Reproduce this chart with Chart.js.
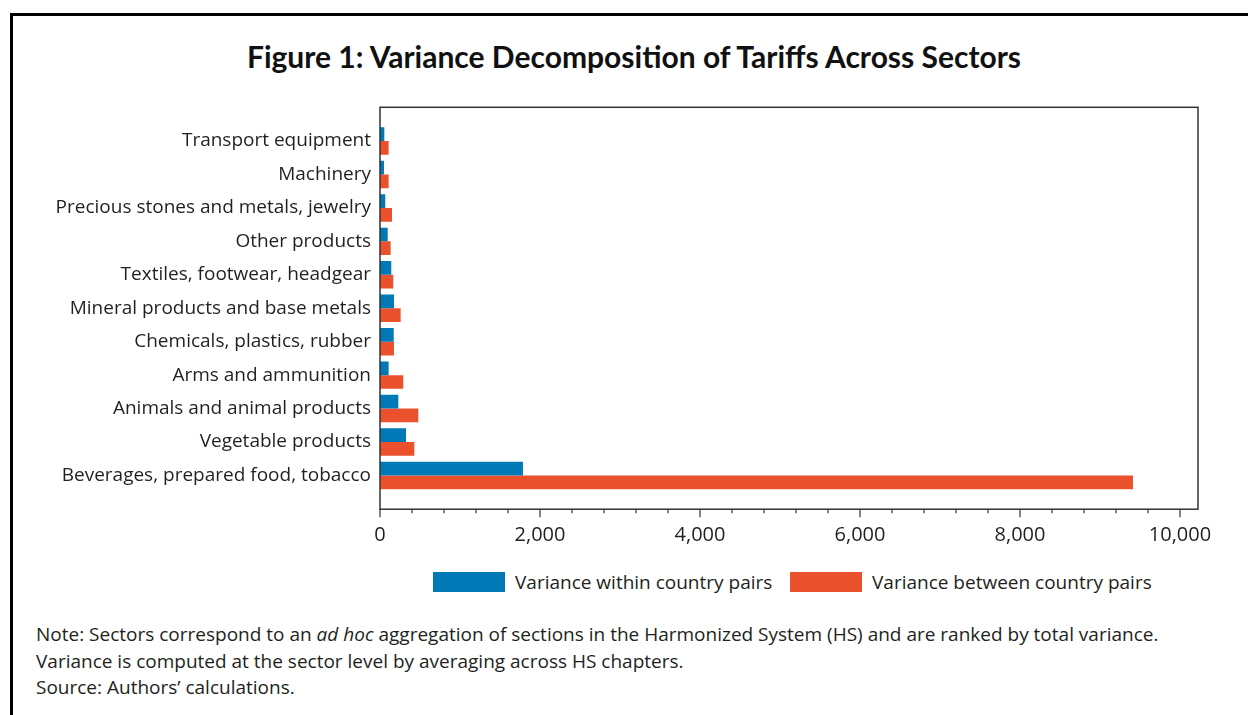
<!DOCTYPE html>
<html>
<head>
<meta charset="utf-8">
<script src="https://cdn.jsdelivr.net/npm/chart.js@4.4.1/dist/chart.umd.min.js"></script>
<style>
  html, body { margin: 0; padding: 0; background: #fff; }
  body { width: 1248px; height: 715px; position: relative; overflow: hidden; font-family: "Open Sans", sans-serif; color: #231f20; }
  #frame { position: absolute; left: 10px; top: 13px; width: 1260px; height: 720px; border-left: 3px solid #000; border-top: 3px solid #000; }
  #title { position: absolute; left: 0; width: 1268px; top: 37px; text-align: center; font-family: "Lato", sans-serif; font-weight: 700; font-size: 30px; line-height: 38px; color: #111; }
  #chartwrap { position: absolute; left: 0; top: 0; width: 1248px; height: 560px; }
  #legend { position: absolute; left: 0; top: 570px; width: 1248px; height: 26px; font-size: 19px; line-height: 24px; }
  .lg { position: absolute; top: 0; white-space: nowrap; }
  .sw { position: absolute; top: 2px; width: 72px; height: 20px; }
  #note { position: absolute; left: 36px; top: 621px; font-size: 19px; line-height: 26.5px; color: #231f20; white-space: nowrap; }
</style>
</head>
<body>
<div id="frame"></div>
<div id="title">Figure 1: Variance Decomposition of Tariffs Across Sectors</div>
<div id="chartwrap"><canvas id="c" width="1248" height="560"></canvas></div>
<div id="legend">
  <div class="sw" id="sw0" style="left:433px"></div><div class="lg" id="lg0" style="left:515px"></div>
  <div class="sw" id="sw1" style="left:790px"></div><div class="lg" id="lg1" style="left:872px"></div>
</div>
<div id="note">Note: Sectors correspond to an <i>ad hoc</i> aggregation of sections in the Harmonized System (HS) and are ranked by total variance.<br>Variance is computed at the sector level by averaging across HS chapters.<br>Source: Authors’ calculations.</div>
<script>
const categories = [
  "Transport equipment",
  "Machinery",
  "Precious stones and metals, jewelry",
  "Other products",
  "Textiles, footwear, headgear",
  "Mineral products and base metals",
  "Chemicals, plastics, rubber",
  "Arms and ammunition",
  "Animals and animal products",
  "Vegetable products",
  "Beverages, prepared food, tobacco"
];
const withinPairs  = [54, 50, 66, 96, 141, 175, 171, 108, 229, 325, 1787];
const betweenPairs = [108, 108, 150, 133, 166, 258, 175, 291, 479, 429, 9412];
const seriesNames = ["Variance within country pairs", "Variance between country pairs"];
const seriesColors = ["#0079b6", "#ea512c"];
const xTickLabels = [0, 2000, 4000, 6000, 8000, 10000];
const xMinorStep = 400;

const ink = "#231f20";
const fontFam = "'Open Sans', sans-serif";

seriesNames.forEach((n, i) => {
  document.getElementById('lg' + i).textContent = n;
  document.getElementById('sw' + i).style.background = seriesColors[i];
});

const FRAME_PAD = 17;
const frameAndTicks = {
  id: 'frameAndTicks',
  afterDraw(chart) {
    const ctx = chart.ctx, a = chart.chartArea, xs = chart.scales.x;
    const top = a.top - FRAME_PAD, bottom = a.bottom + FRAME_PAD;
    ctx.save();
    ctx.strokeStyle = "#333";
    ctx.lineWidth = 1.5;
    ctx.strokeRect(a.left, top, a.right - a.left, bottom - top);
    ctx.lineWidth = 1.2;
    xs.ticks.forEach(t => {
      const px = xs.getPixelForValue(t.value);
      const major = xTickLabels.includes(t.value);
      ctx.beginPath();
      ctx.moveTo(px, bottom);
      ctx.lineTo(px, bottom + (major ? 8 : 4));
      ctx.stroke();
    });
    ctx.restore();
  }
};

new Chart(document.getElementById('c'), {
  type: 'bar',
  data: {
    labels: categories,
    datasets: [
      { label: seriesNames[0], data: withinPairs, backgroundColor: seriesColors[0], borderWidth: 0 },
      { label: seriesNames[1], data: betweenPairs, backgroundColor: seriesColors[1], borderWidth: 0 }
    ]
  },
  options: {
    indexAxis: 'y',
    responsive: false,
    animation: false,
    layout: { padding: { top: 124.3, right: 50, left: 0, bottom: 0 } },
    datasets: { bar: { categoryPercentage: 0.82, barPercentage: 1.0 } },
    scales: {
      x: {
        min: 0, max: 10225,
        grid: { display: false, drawTicks: false },
        border: { display: false },
        afterBuildTicks(s) {
          const t = [];
          const last = xTickLabels[xTickLabels.length - 1];
          for (let v = 0; v <= last; v += xMinorStep) t.push({ value: v });
          s.ticks = t;
        },
        ticks: {
          autoSkip: false,
          maxRotation: 0,
          padding: 31,
          color: ink,
          font: { family: fontFam, size: 20 },
          callback: (v) => xTickLabels.includes(v) ? v.toLocaleString('en-US') : ''
        },
        afterFit(s) { s.height = 560 - 492.2; }
      },
      y: {
        grid: { display: false, drawTicks: false },
        border: { display: false },
        ticks: { padding: 9, color: ink, font: { family: fontFam, size: 19 } },
        afterFit(s) { s.width = 380; }
      }
    },
    plugins: {
      legend: { display: false },
      tooltip: { enabled: false },
      title: { display: false }
    }
  },
  plugins: [frameAndTicks]
});
</script>
</body>
</html>
